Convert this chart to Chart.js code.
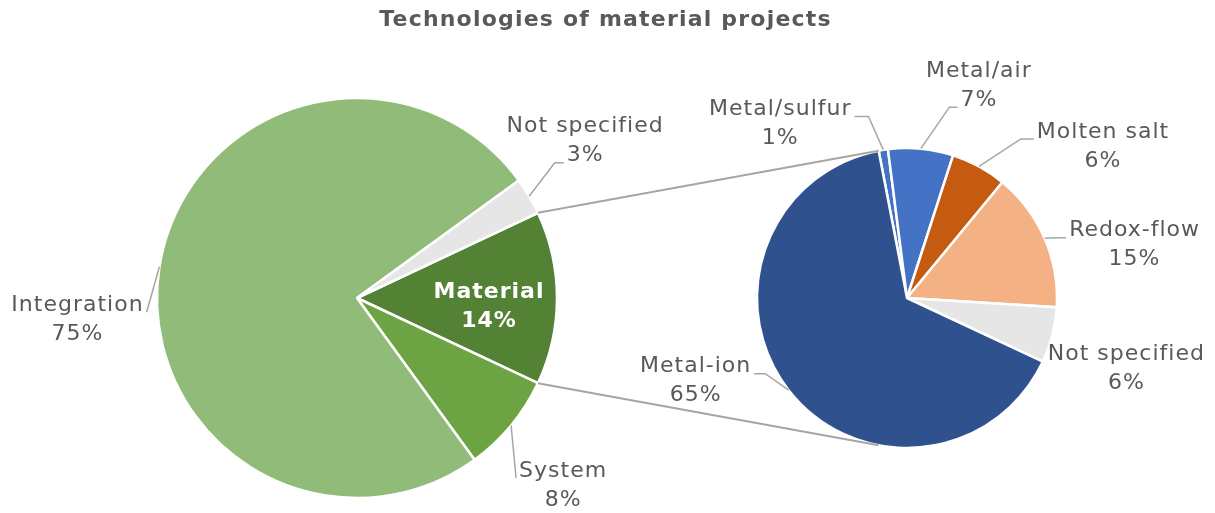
<!DOCTYPE html>
<html>
<head>
<meta charset="utf-8">
<script src="https://cdn.jsdelivr.net/npm/chart.js@4/dist/chart.umd.min.js"></script>
<style>
  html, body { margin: 0; padding: 0; background: #fff; }
  #wrap { position: relative; width: 1215px; height: 513px; }
  #wrap canvas { position: absolute; left: 0; top: 0; }
</style>
</head>
<body>
<div id="wrap">
  <canvas id="chartMain" width="1215" height="513"></canvas>
  <canvas id="chartSub" width="1215" height="513"></canvas>
</div>
<script>
// primary pie: all projects
var mainLabels = ['Material', 'System', 'Integration', 'Not specified'];
var mainValues = [14, 8, 75, 3];
var mainColors = ['#548235', '#6ca443', '#90bb79', '#e7e6e6'];

// secondary pie: split of the Material slice
var subLabels = ['Metal/sulfur', 'Metal/air', 'Molten salt', 'Redox-flow', 'Not specified', 'Metal-ion'];
var subValues = [1, 7, 6, 15, 6, 65];
var subColors = ['#4472c4', '#4472c4', '#c55a11', '#f4b183', '#e7e6e6', '#2f528f'];

var titleText = 'Technologies of material projects';

// label placement: shift of the text block from the slice's outer mid point,
// leader = [line the leader meets, length of the flat tail] or null
var mainLabelShift = [[-68, 9], [52, 60], [-82, 53], [56, -55]];
var mainLeader = [null, [0, 0], [0, 0], [1, 9]];
var mainInside = [true, false, false, false];
var subLabelShift = [[-103, -26], [58, -63], [124, -20], [90, 7], [74, 34], [-93, -9]];
var subLeader = [[0, 14], [1, 8], [0, 13], [0, 10], null, [0, 11]];
var subInside = [false, false, false, false, false, false];

var textColor = '#595959';
var lineColor = '#a6a6a6';
var labelFont = '22px "DejaVu Sans", Verdana, sans-serif';
var lineGap = 29;

function pct(values, i) {
  var total = values.reduce(function(a, b) { return a + b; }, 0);
  return Math.round(values[i] / total * 100) + '%';
}

function drawLabels(chart, names, values, shifts, leaders, inside) {
  var ctx = chart.ctx;
  var arcs = chart.getDatasetMeta(0).data;
  ctx.save();
  ctx.textAlign = 'center';
  ctx.textBaseline = 'middle';
  ctx.letterSpacing = '1px';
  arcs.forEach(function(arc, i) {
    var mid = (arc.startAngle + arc.endAngle) / 2;
    var ex = arc.x + Math.cos(mid) * arc.outerRadius;
    var ey = arc.y + Math.sin(mid) * arc.outerRadius;
    var cx = ex + shifts[i][0];
    var cy = ey + shifts[i][1];
    var lines = [names[i], pct(values, i)];
    ctx.font = inside[i] ? 'bold ' + labelFont : labelFont;
    ctx.fillStyle = inside[i] ? '#ffffff' : textColor;
    lines.forEach(function(t, k) {
      ctx.fillText(t, cx, cy + (k - 0.5) * lineGap);
    });
    var lead = leaders[i];
    if (lead) {
      var ly = cy + (lead[0] - 0.5) * lineGap + 7;
      var w = ctx.measureText(lines[lead[0]]).width;
      var ax, bx;
      if (cx > ex) {
        ax = cx - w / 2 - 3;
        bx = ax - lead[1];
      } else {
        ax = cx + w / 2 + 3;
        bx = ax + lead[1];
      }
      ctx.strokeStyle = lineColor;
      ctx.lineWidth = 1.5;
      ctx.beginPath();
      ctx.moveTo(ex, ey);
      ctx.lineTo(bx, ly);
      ctx.lineTo(ax, ly);
      ctx.stroke();
    }
  });
  ctx.restore();
}

var mainLabelPlugin = {
  id: 'mainLabels',
  afterDatasetsDraw: function(chart) {
    drawLabels(chart, mainLabels, mainValues, mainLabelShift, mainLeader, mainInside);
    var ctx = chart.ctx;
    ctx.save();
    ctx.font = 'bold 22px "DejaVu Sans", Verdana, sans-serif';
    ctx.letterSpacing = '1.2px';
    ctx.fillStyle = textColor;
    ctx.textAlign = 'center';
    ctx.textBaseline = 'middle';
    ctx.fillText(titleText, chart.width / 2 - 2, 20);
    ctx.restore();
  }
};

// gray lines joining the Material slice to the secondary pie
var connectorPlugin = {
  id: 'connectors',
  afterDatasetsDraw: function(chart) {
    var a = mainChart.getDatasetMeta(0).data[0];
    var b = chart.getDatasetMeta(0).data[0];
    var x1 = a.x + Math.cos(a.startAngle) * a.outerRadius;
    var y1 = a.y + Math.sin(a.startAngle) * a.outerRadius;
    var x2 = a.x + Math.cos(a.endAngle) * a.outerRadius;
    var y2 = a.y + Math.sin(a.endAngle) * a.outerRadius;
    var tx = b.x + Math.cos(b.startAngle) * b.outerRadius;
    var ty = b.y + Math.sin(b.startAngle) * b.outerRadius;
    var ctx = chart.ctx;
    ctx.save();
    ctx.strokeStyle = lineColor;
    ctx.lineWidth = 2;
    ctx.beginPath();
    ctx.moveTo(x1, y1);
    ctx.lineTo(tx, ty);
    ctx.moveTo(x2, y2);
    ctx.lineTo(tx, 2 * b.y - ty);
    ctx.stroke();
    ctx.restore();
    drawLabels(chart, subLabels, subValues, subLabelShift, subLeader, subInside);
  }
};

var baseOptions = {
  responsive: false,
  animation: false,
  events: [],
  plugins: { legend: { display: false }, tooltip: { enabled: false } }
};

var mainChart = new Chart(document.getElementById('chartMain').getContext('2d'), {
  type: 'pie',
  data: {
    labels: mainLabels,
    datasets: [{
      data: mainValues,
      backgroundColor: mainColors,
      borderColor: '#ffffff',
      borderWidth: 2.5,
      hoverOffset: 0
    }]
  },
  options: Object.assign({}, baseOptions, {
    // Material slice sits centred on the right-hand side
    rotation: 90 - mainValues[0] / 100 * 180,
    radius: 200,
    layout: { padding: { left: 157, right: 658, top: 98, bottom: 15 } }
  }),
  plugins: [mainLabelPlugin]
});

var subChart = new Chart(document.getElementById('chartSub').getContext('2d'), {
  type: 'pie',
  data: {
    labels: subLabels,
    datasets: [{
      data: subValues,
      backgroundColor: subColors,
      borderColor: '#ffffff',
      borderWidth: 2.5,
      hoverOffset: 0
    }]
  },
  options: Object.assign({}, baseOptions, {
    rotation: -10.9,
    radius: 150,
    layout: { padding: { left: 757, right: 158, top: 148, bottom: 65 } }
  }),
  plugins: [connectorPlugin]
});
</script>
</body>
</html>
